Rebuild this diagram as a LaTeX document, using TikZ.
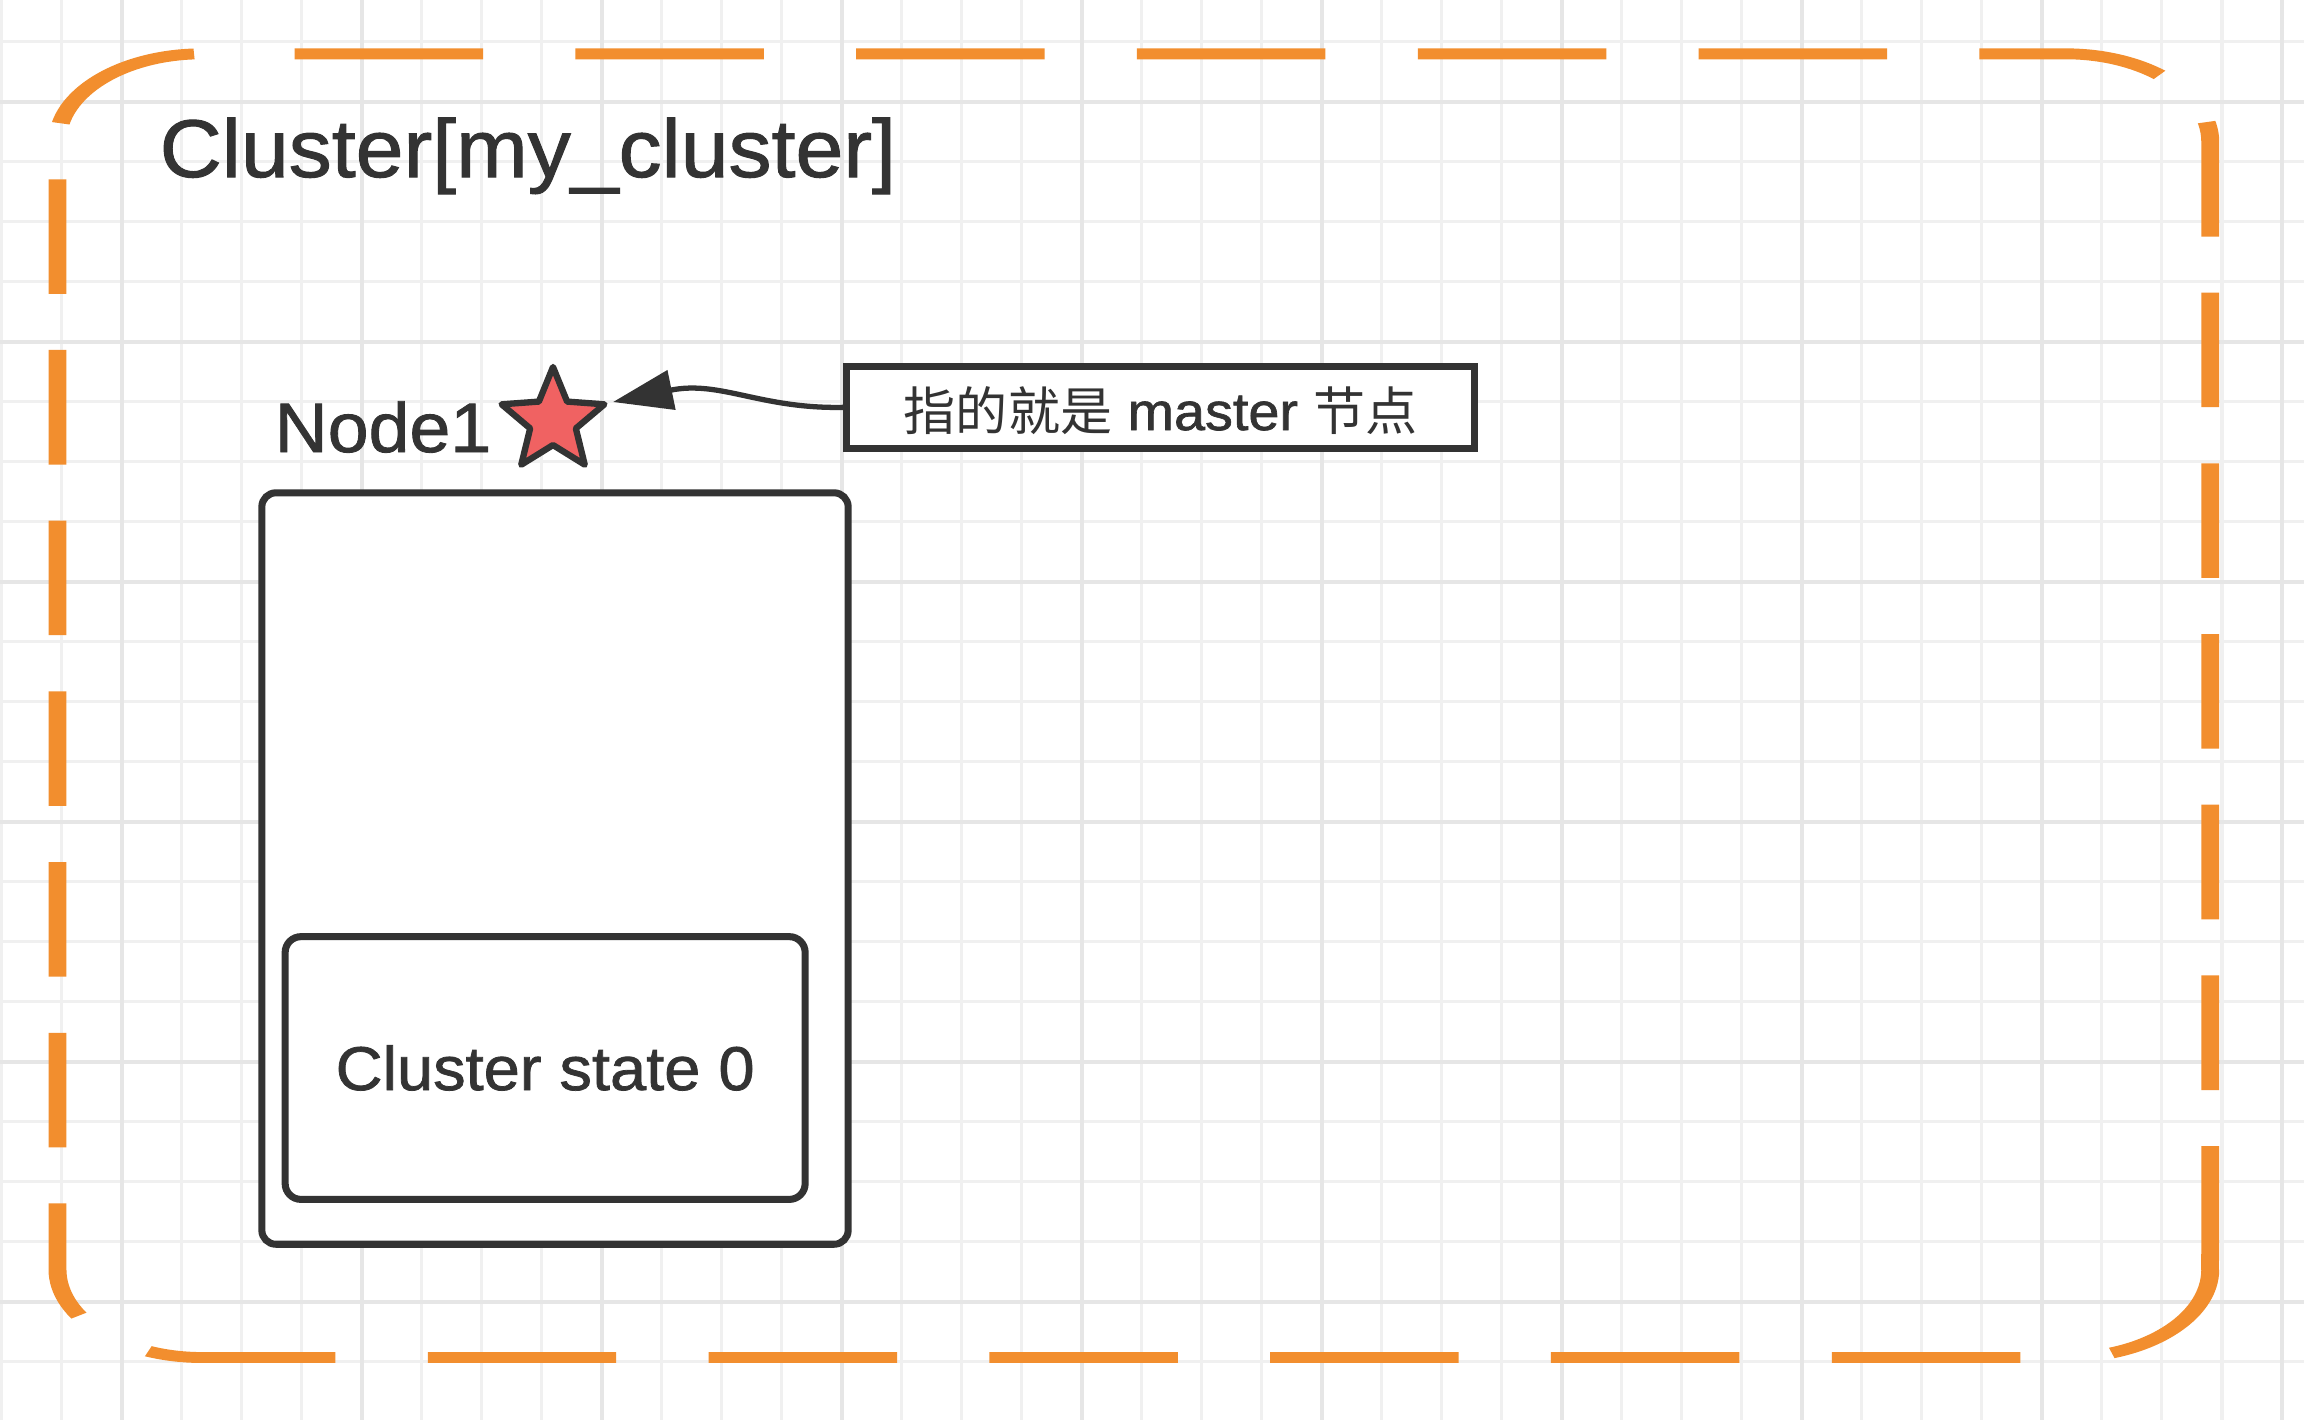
\documentclass[tikz,border=0pt]{standalone}
\usepackage{fontspec}
\setmainfont{Liberation Sans}[FakeStretch=1.05, FakeBold=1.2]
\newfontfamily\cjk{Noto Sans CJK SC}
\usetikzlibrary{arrows.meta,shapes.geometric}

\definecolor{ink}{HTML}{333333}
\definecolor{framec}{RGB}{242,142,46}
\definecolor{starred}{HTML}{F06262}
\definecolor{gridminor}{HTML}{F0F0F0}
\definecolor{gridmajor}{HTML}{E6E6E6}

\begin{document}
\begin{tikzpicture}[x=0.01cm, y=-0.01cm,
  minorline/.style={draw=gridminor, line width=1pt},
  majorline/.style={draw=gridmajor, line width=1.1pt},
  frameline/.style={draw=framec, line width=3.1pt, line cap=butt,
                    dash pattern=on 32.58pt off 15.96pt},
  box/.style={draw=ink, line width=2pt, fill=white, rounded corners=4pt, inner sep=0pt},
  notebox/.style={draw=ink, line width=2pt, fill=white, inner sep=0pt},
  plain/.style={inner sep=0pt, text=ink},
  pointer/.style={draw=ink, line width=1.5pt, -{Triangle[length=17pt, width=11.2pt]}}
]
\useasboundingbox[fill=white] (0,0) rectangle (2304,1420);

% background grid, every fourth line darker
\foreach \x in {1.7,61.7,...,2282} \draw[minorline] (\x,0) -- (\x,1420);
\foreach \y in {41.7,101.7,...,1362} \draw[minorline] (0,\y) -- (2304,\y);
\foreach \x in {121.7,361.7,...,2282} \draw[majorline] (\x,0) -- (\x,1420);
\foreach \y in {101.7,341.7,...,1302} \draw[majorline] (0,\y) -- (2304,\y);

% dashed cluster frame (drawn squeezed, then stretched sideways)
\begin{scope}[transform canvas={xscale=1.645}]
  \draw[frameline, dash phase=32.58pt]
    (122.95,53.8) -- (1255.6,53.8)
    .. controls (1304.2,53.8) and (1343.6,93.2) .. (1343.6,141.8)
    -- (1343.6,1269.5);
  \draw[frameline, dash phase=47.12pt]
    (122.95,53.8) .. controls (74.35,53.8) and (34.95,93.2) .. (34.95,141.8)
    -- (34.95,1269.5)
    .. controls (34.95,1318.1) and (74.35,1357.5) .. (122.95,1357.5)
    -- (1255.6,1357.5)
    .. controls (1304.2,1357.5) and (1343.6,1318.1) .. (1343.6,1269.5);
  \draw[draw=framec, line width=3.1pt] (1343.6,1254) -- (1343.6,1270);
\end{scope}

% cluster title
\node[plain, anchor=base west, font=\fontsize{23.3pt}{28pt}\selectfont]
  (title) at (159,177) {Cluster[my\_cluster]};

% node 1 with its cluster state
\node[box, minimum width=5.86cm, minimum height=7.51cm] (node1) at (555,868.5) {};
\node[box, rounded corners=4.5pt, minimum width=5.197cm, minimum height=2.626cm,
      text=ink, text height=12.52pt, text depth=0pt,
      font=\fontsize{17.6pt}{21pt}\selectfont]
  (state0) at (545.15,1068) {Cluster state 0};
\node[plain, anchor=base west, font=\fontsize{19.9pt}{24pt}\selectfont]
  (n1label) at (274,452) {Node1};

% master marker
\node[star, star points=5, star point ratio=2.25, minimum size=1.08cm, inner sep=0pt,
      draw=ink, fill=starred, line width=1.8pt, line join=round]
  (star) at (553,421) {};

% note and its pointer
\node[notebox, minimum width=6.275cm, minimum height=0.813cm,
      text=ink, text height=15pt, text depth=2.11pt]
  (note) at (1160.75,407.35)
  {{\cjk\fontsize{14.8pt}{17pt}\selectfont 指的就是}\fontsize{15.1pt}{18pt}\selectfont{} master {\cjk\fontsize{14.8pt}{17pt}\selectfont 节点}};
\coordinate (tip) at (613,402);
\draw[pointer] (note.west) .. controls (760,409) and (720,380) .. (tip);

\end{tikzpicture}
\end{document}
